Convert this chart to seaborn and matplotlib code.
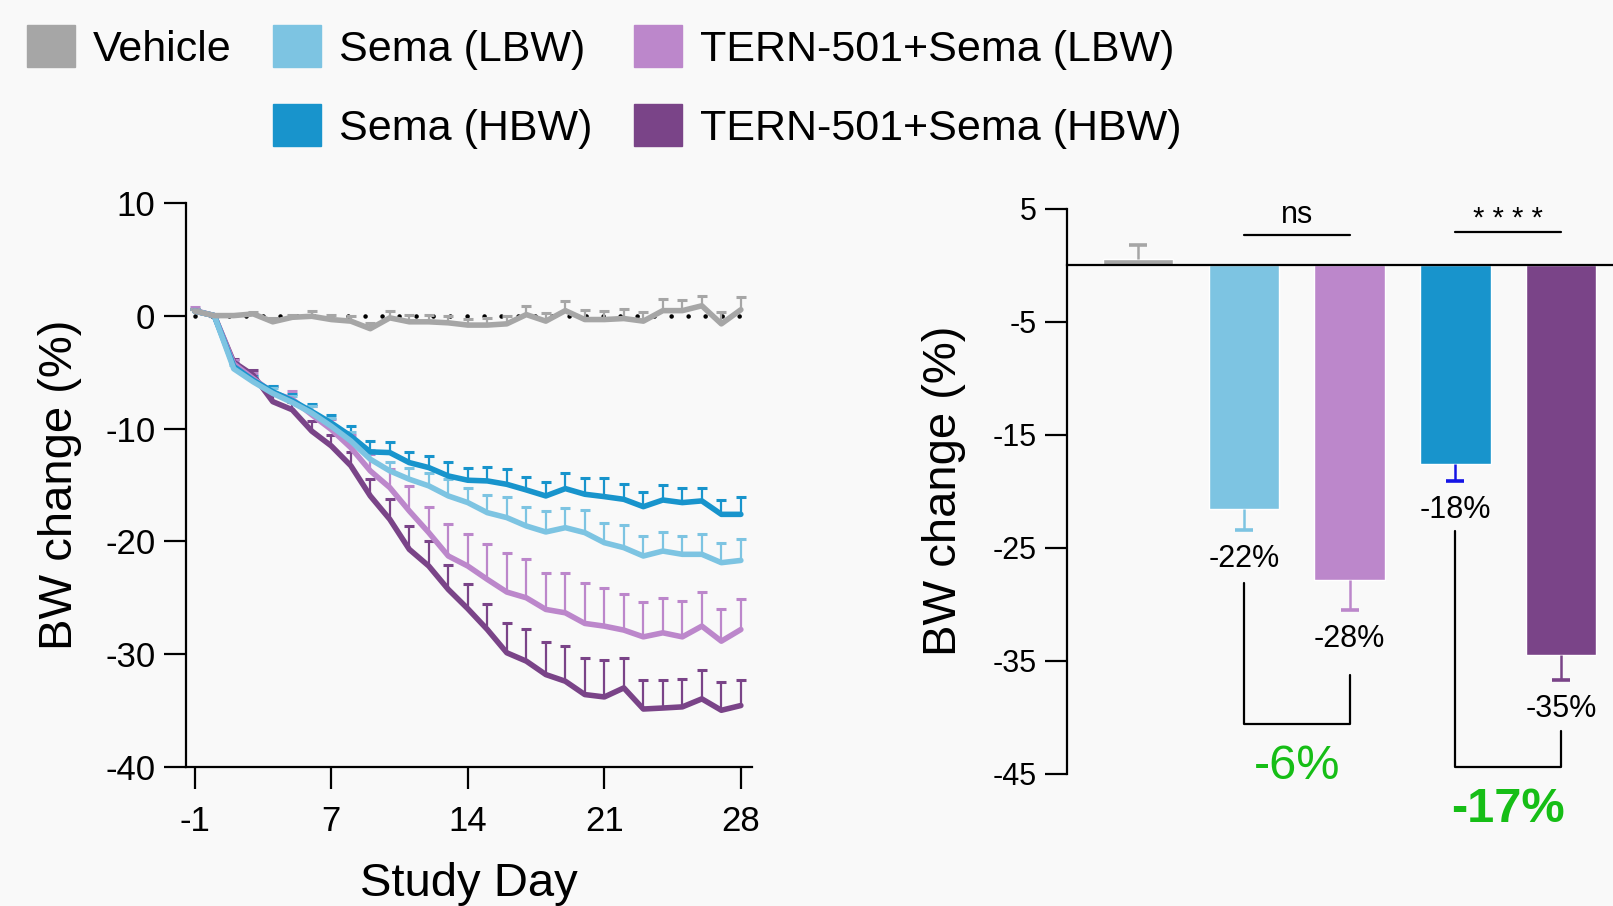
import numpy as np
import pandas as pd
import seaborn as sns
from matplotlib import pyplot as plt
from matplotlib.patches import Patch

# groups and colours (shared by both panels)
groups = ['Vehicle', 'Sema (LBW)', 'TERN-501+Sema (LBW)', 'Sema (HBW)', 'TERN-501+Sema (HBW)']
colors = ['#A6A6A6', '#7DC4E2', '#BC87CB', '#1894CC', '#7A4488']

# left panel: BW change (%) per study day, mean and SEM
day_idx = np.arange(29)
day_ticks = [0, 7, 14, 21, 28]
day_labels = ['-1', '7', '14', '21', '28']

vehicle = [0.4, 0.0, 0.0, 0.15, -0.55, -0.15, -0.06, -0.35, -0.49, -1.16, -0.2, -0.55, -0.55, -0.64, -0.84,
           -0.84, -0.73, 0.09, -0.49, 0.44, -0.35, -0.35, -0.26, -0.49, 0.44, 0.44, 0.87, -0.73, 0.52]
vehicle_err = [0.2, 0.0, 0.1, 0.17, 0.3, 0.23, 0.49, 0.44, 0.49, 0.52, 0.58, 0.58, 0.64, 0.64, 0.58,
               0.64, 0.67, 0.73, 0.73, 0.81, 0.87, 0.78, 0.87, 0.81, 1.05, 0.96, 0.9, 1.05, 1.16]
sema_lbw = [0.4, 0.0, -4.71, -5.87, -6.89, -7.70, -8.63, -9.80, -11.10, -12.72, -13.75, -14.49, -15.08, -15.97,
            -16.56, -17.45, -17.89, -18.63, -19.16, -18.78, -19.22, -20.11, -20.55, -21.29, -20.85, -21.14,
            -21.14, -21.88, -21.68]
sema_lbw_err = [0.2, 0.0, 0.3, 0.4, 0.5, 0.55, 0.6, 0.7, 0.75, 0.8, 0.8, 1.03, 1.12, 1.48, 1.33, 1.57, 1.83,
                1.68, 1.86, 1.71, 1.98, 1.71, 2.01, 1.77, 1.71, 1.63, 1.83, 1.77, 1.86]
tern_lbw = [0.45, 0.0, -4.27, -5.58, -6.83, -7.41, -8.78, -10.09, -11.69, -13.75, -15.23, -17.30, -19.22,
            -21.29, -22.18, -23.36, -24.48, -24.99, -26.02, -26.32, -27.26, -27.50, -27.85, -28.45, -28.09,
            -28.45, -27.50, -28.83, -27.80]
tern_lbw_err = [0.3, 0.0, 0.3, 0.5, 0.6, 0.7, 0.8, 0.9, 1.1, 1.5, 1.68, 2.2, 2.31, 2.81, 2.87, 3.10, 3.49,
                3.40, 3.19, 3.55, 3.55, 3.34, 3.22, 3.10, 3.04, 3.16, 3.02, 2.81, 2.72]
sema_hbw = [0.4, 0.0, -4.5, -5.73, -6.74, -7.53, -8.49, -9.51, -10.67, -12.07, -12.13, -13.02, -13.46, -14.20,
            -14.58, -14.64, -14.94, -15.44, -15.97, -15.32, -15.82, -16.03, -16.27, -16.92, -16.33, -16.56,
            -16.41, -17.60, -17.60]
sema_hbw_err = [0.2, 0.0, 0.3, 0.4, 0.5, 0.55, 0.65, 0.75, 0.85, 0.98, 0.98, 0.98, 1.03, 1.27, 1.12, 1.24,
                1.39, 1.18, 1.27, 1.42, 1.42, 1.63, 1.39, 1.30, 1.33, 1.27, 1.18, 1.27, 1.54]
tern_hbw = [0.4, 0.0, -4.13, -5.29, -7.62, -8.34, -10.23, -11.54, -13.29, -15.97, -18.04, -20.70, -22.18,
            -24.25, -25.96, -27.80, -29.86, -30.60, -31.79, -32.38, -33.56, -33.77, -32.97, -34.84, -34.75,
            -34.65, -33.94, -34.95, -34.53]
tern_hbw_err = [0.2, 0.0, 0.3, 0.5, 0.6, 0.7, 0.9, 1.0, 1.2, 1.48, 1.83, 2.07, 2.22, 2.16, 2.16, 2.22, 2.60,
                2.87, 2.90, 3.16, 3.25, 3.25, 2.66, 2.60, 2.51, 2.51, 2.54, 2.48, 2.22]

# right panel: day-28 BW change (%)
bar_values = [0.6, -21.6, -27.9, -17.6, -34.5]
bar_err = [1.2, 1.8, 2.6, 1.5, 2.2]
bar_err_colors = ['#A6A6A6', '#7DC4E2', '#BC87CB', '#1414E6', '#7A4488']
bar_labels = ['', '-22%', '-28%', '-18%', '-35%']
diff_labels = ['-6%', '-17%']
sig_labels = ['ns', '* * * *']

bg = '#F9F9F9'
sns.set_theme(style='ticks', rc={'figure.facecolor': bg, 'axes.facecolor': bg,
                                 'axes.edgecolor': 'black', 'xtick.color': 'black',
                                 'ytick.color': 'black', 'text.color': 'black',
                                 'axes.labelcolor': 'black', 'axes.linewidth': 1.6})
plt.rcParams['font.family'] = ['Liberation Sans', 'DejaVu Sans']
plt.rcParams['axes.unicode_minus'] = False

palette = dict(zip(groups, colors))
series = dict(zip(groups, [vehicle, sema_lbw, tern_lbw, sema_hbw, tern_hbw]))
series_err = dict(zip(groups, [vehicle_err, sema_lbw_err, tern_lbw_err, sema_hbw_err, tern_hbw_err]))

fig = plt.figure(figsize=(16.13, 9.06), dpi=100)

# ---- left: time course ----
ax1 = fig.add_axes([0.1153, 0.1531, 0.3509, 0.6232])
draw_order = [groups[4], groups[2], groups[3], groups[1], groups[0]]
long = pd.DataFrame({
    'day': np.tile(day_idx, len(groups)),
    'bw': np.concatenate([series[g] for g in groups]),
    'group': np.repeat(groups, len(day_idx)),
})

zero_line = ax1.hlines(0, day_idx.min(), day_idx.max(), colors='black', lw=3.3,
                       linestyles=(0, (0.01, 3.7)), zorder=1)
zero_line.set_capstyle('round')

for g in draw_order:
    eb = ax1.errorbar(day_idx, series[g], yerr=[np.zeros(len(day_idx)), series_err[g]], fmt='none',
                      ecolor=palette[g], elinewidth=1.6, capsize=3.9, capthick=2.2, zorder=2)
    eb[1][0].set_visible(False)

sns.lineplot(data=long, x='day', y='bw', hue='group', hue_order=draw_order, palette=palette,
             lw=4, errorbar=None, legend=False, ax=ax1, zorder=3)

ax1.set_xlim(-0.45, 28.57)
ax1.set_ylim(-40, 10)
ax1.set_xticks(day_ticks, day_labels)
ax1.set_yticks([10, 0, -10, -20, -30, -40])
ax1.tick_params(labelsize=25, length=16, width=1.6, pad=6)
ax1.tick_params(axis='x', pad=11)
ax1.set_xlabel('Study Day', fontsize=34)
ax1.set_ylabel('BW change (%)', fontsize=34)
ax1.xaxis.set_label_coords(0.5, -0.168)
ax1.yaxis.set_label_coords(-0.184, 0.5)
sns.despine(ax=ax1)

# ---- right: day-28 bars ----
ax2 = fig.add_axes([0.6618, 0.1461, 0.3382, 0.6234])
sns.barplot(x=groups, y=bar_values, hue=groups, palette=colors, saturation=1, width=0.665,
            legend=False, ax=ax2, zorder=2)
xpos = np.arange(len(groups))
vals = np.array(bar_values)
errs = np.array(bar_err)
for i in range(len(groups)):
    down = vals[i] < 0
    eb = ax2.errorbar(xpos[i], vals[i], yerr=[[errs[i] if down else 0], [0 if down else errs[i]]],
                      fmt='none', ecolor=bar_err_colors[i], elinewidth=1.8, capsize=6.4, capthick=2.6,
                      zorder=3)
    eb[1][1 if down else 0].set_visible(False)
    if bar_labels[i]:
        ax2.text(xpos[i], vals[i] - errs[i] - 2.6, bar_labels[i], ha='center', va='center', fontsize=22)

# comparison brackets (LBW pair, HBW pair)
pairs = [(1, 2), (3, 4)]
bracket_tops = [(-28.1, -36.3), (-23.5, -41.2)]
bracket_bottoms = [-40.6, -44.4]
for (a, b), (ta, tb), yb, lab, bold in zip(pairs, bracket_tops, bracket_bottoms, diff_labels,
                                          ['normal', 'bold']):
    ax2.plot([a, a, b, b], [ta, yb, yb, tb], color='black', lw=1.6, clip_on=False)
    ax2.text((a + b) / 2, yb - 3.75, lab, ha='center', va='center', fontsize=35,
             fontweight=bold, color='#16BE16')
for (a, b), lab, yl, off, fs in zip(pairs, sig_labels, [2.7, 2.93], [1.05, 0.5], [22, 21]):
    ax2.plot([a, b], [yl, yl], color='black', lw=1.6)
    ax2.text((a + b) / 2, yl + off, lab, ha='center', va='baseline', fontsize=fs)

ax2.set_xlim(-0.667, 4.49)
ax2.set_ylim(-45, 5)
ax2.set_xticks([])
ax2.set_yticks([5, -5, -15, -25, -35, -45])
ax2.tick_params(axis='y', labelsize=22, length=16, width=1.6, pad=6)
ax2.spines['bottom'].set_position(('data', 0))
ax2.set_ylabel('BW change (%)', fontsize=34)
ax2.yaxis.set_label_coords(-0.186, 0.5)
sns.despine(ax=ax2)

# ---- legend ----
handles = [Patch(color=palette[groups[0]], label=groups[0]), Patch(color='none', label=''),
           Patch(color=palette[groups[1]], label=groups[1]), Patch(color=palette[groups[3]], label=groups[3]),
           Patch(color=palette[groups[2]], label=groups[2]), Patch(color=palette[groups[4]], label=groups[4])]
fig.legend(handles=handles, ncol=3, loc='upper left', bbox_to_anchor=(0.0169, 0.972), frameon=False,
           fontsize=31, handlelength=1.12, handleheight=1.12, handletextpad=0.41, columnspacing=0.96,
           labelspacing=0.80, borderpad=0, borderaxespad=0)

fig.savefig('out.png', dpi=100, facecolor=bg)
